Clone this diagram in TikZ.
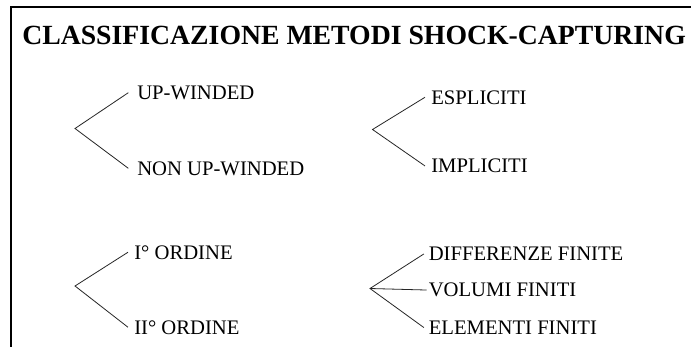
\documentclass[tikz,border=0pt]{standalone}
\usepackage{fontspec}
\setmainfont{Liberation Serif}
\begin{document}
\begin{tikzpicture}[x=0.75pt,y=-0.75pt,
  lbl/.style={anchor=base west,inner sep=0pt,font=\fontsize{15.5pt}{18pt}\selectfont},
  ttl/.style={anchor=base west,inner sep=0pt,font=\fontsize{20.8pt}{24pt}\selectfont\bfseries},
  br/.style={line width=0.6pt,black!85}]
\useasboundingbox (0,0) rectangle (691,346);
\clip (0,0) rectangle (691,346);
\fill[white] (0,0) rectangle (691,346);
\draw[line width=1.6pt] (11,7) rectangle (720,380);
\node[ttl] (title) at (22,45) {CLASSIFICAZIONE METODI SHOCK-CAPTURING};
% group 1
\coordinate (v1) at (75,128.5);
\node[lbl] (uw) at (137,99.3) {UP-WINDED};
\node[lbl] (nuw) at (137,175) {NON UP-WINDED};
\draw[br] ([xshift=-6.5pt]uw.west) -- (v1) -- ([xshift=-6.5pt]nuw.west);
% group 2
\coordinate (v2) at (372.5,129.5);
\node[lbl] (esp) at (431,104) {ESPLICITI};
\node[lbl] (imp) at (431,172.7) {IMPLICITI};
\draw[br] ([xshift=-4.5pt]esp.west) -- (v2) -- ([xshift=-4.5pt]imp.west);
% group 3
\coordinate (v3) at (75,286);
\node[lbl] (o1) at (134,259) {I° ORDINE};
\node[lbl] (o2) at (134,334) {II° ORDINE};
\draw[br] ([xshift=-4.5pt]o1.west) -- (v3) -- ([xshift=-4.5pt]o2.west);
% group 4
\coordinate (v4) at (370,288.5);
\node[lbl] (df) at (428.5,260.7) {DIFFERENZE FINITE};
\node[lbl] (vf) at (428.5,296.7) {VOLUMI FINITI};
\node[lbl] (ef) at (428.5,334.3) {ELEMENTI FINITI};
\draw[br] ([xshift=-3.5pt]df.west) -- (v4) -- ([xshift=-3.5pt]ef.west);
\draw[br] (v4) -- ([xshift=-1.5pt]vf.west);
\end{tikzpicture}
\end{document}
